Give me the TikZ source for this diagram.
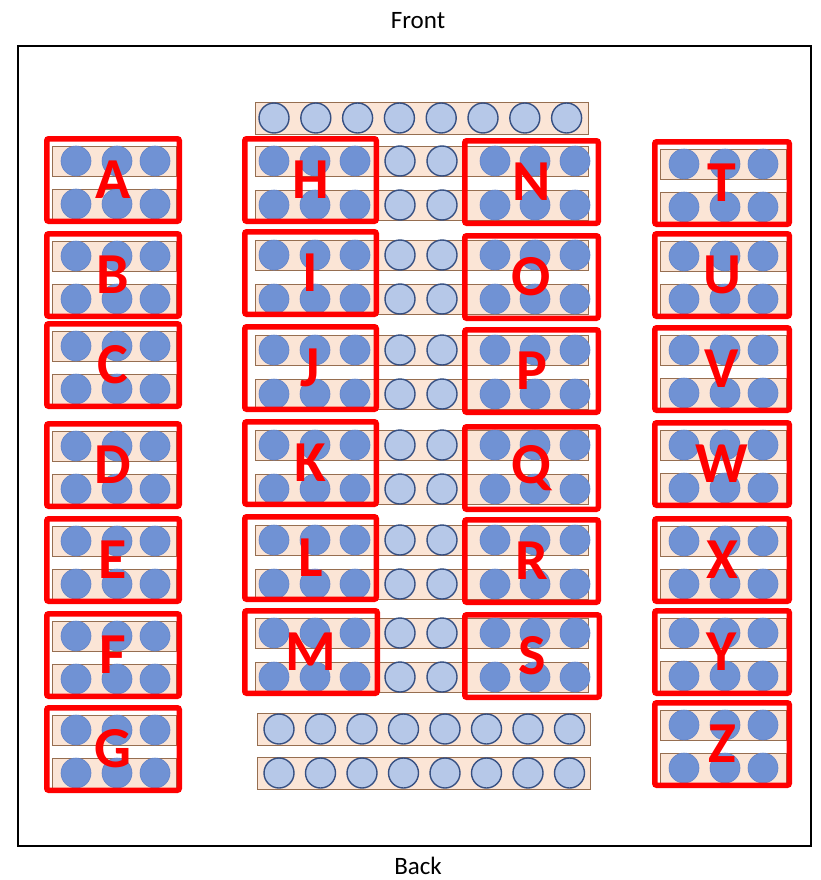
\documentclass[tikz,border=0pt]{standalone}
\usepackage{fontspec}
\setmainfont{Carlito}
\definecolor{stripfill}{RGB}{251,229,214}
\definecolor{stripdraw}{RGB}{150,110,80}
\definecolor{darkblue}{RGB}{112,146,212}
\definecolor{darkblueedge}{RGB}{100,132,200}
\definecolor{lightblue}{RGB}{182,200,232}
\definecolor{lightedge}{RGB}{55,80,130}
\definecolor{boxred}{RGB}{255,0,0}
\tikzset{
  stripbar/.style={fill=stripfill, draw=stripdraw, line width=1pt},
  darkdot/.style={fill=darkblue, draw=darkblueedge, line width=0.6pt},
  lightdot/.style={fill=lightblue, draw=lightedge, line width=1.4pt},
  redbox/.style={draw=boxred, line width=5.5pt, rounded corners=2pt, inner sep=0pt, anchor=north west},
  lettr/.style={text=boxred, font=\fontsize{58}{58}\selectfont\bfseries, inner sep=0pt},
  caption/.style={font=\fontsize{25}{25}\selectfont, inner sep=0pt}
}
\newcommand\sidebox[4]{%
  \foreach \dy in {25,68} {
    \draw[stripbar] (#2+8,#3+\dy-15) rectangle (#2+#4-6,#3+\dy+15);
    \foreach \dx in {32,73,111} \draw[darkdot] (#2+\dx,#3+\dy) circle (15pt);
  }
  \node[redbox, minimum width=#4pt-5.5pt, minimum height=82.5pt] (#1) at (#2,#3) {};
  \node[lettr] (l#1) at (#1.center) {#1};
}
\newcommand\midbox[4]{%
  \node[redbox, minimum width=#4pt-5.5pt, minimum height=82.5pt] (#1) at (#2,#3) {};
  \node[lettr] (l#1) at (#1.center) {#1};
}
\begin{document}
\begin{tikzpicture}[x=1pt,y=-1pt]
\useasboundingbox (0,0) rectangle (821,880);
\fill[white] (0,0) rectangle (821,880);
\node[caption] (front) at (418,21) {Front};
\node[caption] (back) at (418,866) {Back};
\draw[line width=2pt] (18,46) rectangle (811,846);
% top strip
\draw[stripbar] (255,103) rectangle (588,134);
\foreach \k in {0,...,7} \draw[lightdot] (274+41.8*\k,118) circle (15pt);
% middle rows
\foreach \y in {161,255,350,445,540,633} {
  \foreach \dy in {0,44} {
    \draw[stripbar] (255,\y+\dy-15) rectangle (588,\y+\dy+15);
    \foreach \x in {274,315,355,495,535,575} \draw[darkdot] (\x,\y+\dy) circle (15pt);
    \foreach \x in {400,442} \draw[lightdot] (\x,\y+\dy) circle (15pt);
  }
}
% bottom strips
\foreach \y in {729,773} {
  \draw[stripbar] (257,\y-16) rectangle (590,\y+16);
  \foreach \k in {0,...,7} \draw[lightdot] (279+41.5*\k,\y) circle (15pt);
}
% left column
\sidebox{A}{44}{136}{138}
\sidebox{B}{44}{231}{138}
\sidebox{C}{44}{321}{138}
\sidebox{D}{44}{421}{138}
\sidebox{E}{44}{516}{138}
\sidebox{F}{44}{611}{138}
\sidebox{G}{44}{705}{138}
% right column
\sidebox{T}{652}{139}{140}
\sidebox{U}{652}{231}{140}
\sidebox{V}{652}{325}{140}
\sidebox{W}{652}{420}{140}
\sidebox{X}{652}{516}{140}
\sidebox{Y}{652}{608}{140}
\sidebox{Z}{652}{700}{140}
% middle boxes
\midbox{H}{242}{136}{137}
\midbox{I}{242}{229}{137}
\midbox{J}{242}{324}{137}
\midbox{K}{242}{419}{137}
\midbox{L}{242}{514}{137}
\midbox{M}{242}{608}{138}
\midbox{N}{462}{138}{139}
\midbox{O}{462}{233}{139}
\midbox{P}{462}{327}{139}
\midbox{Q}{462}{424}{139}
\midbox{R}{462}{517}{139}
\midbox{S}{462}{612}{140}
\end{tikzpicture}
\end{document}
